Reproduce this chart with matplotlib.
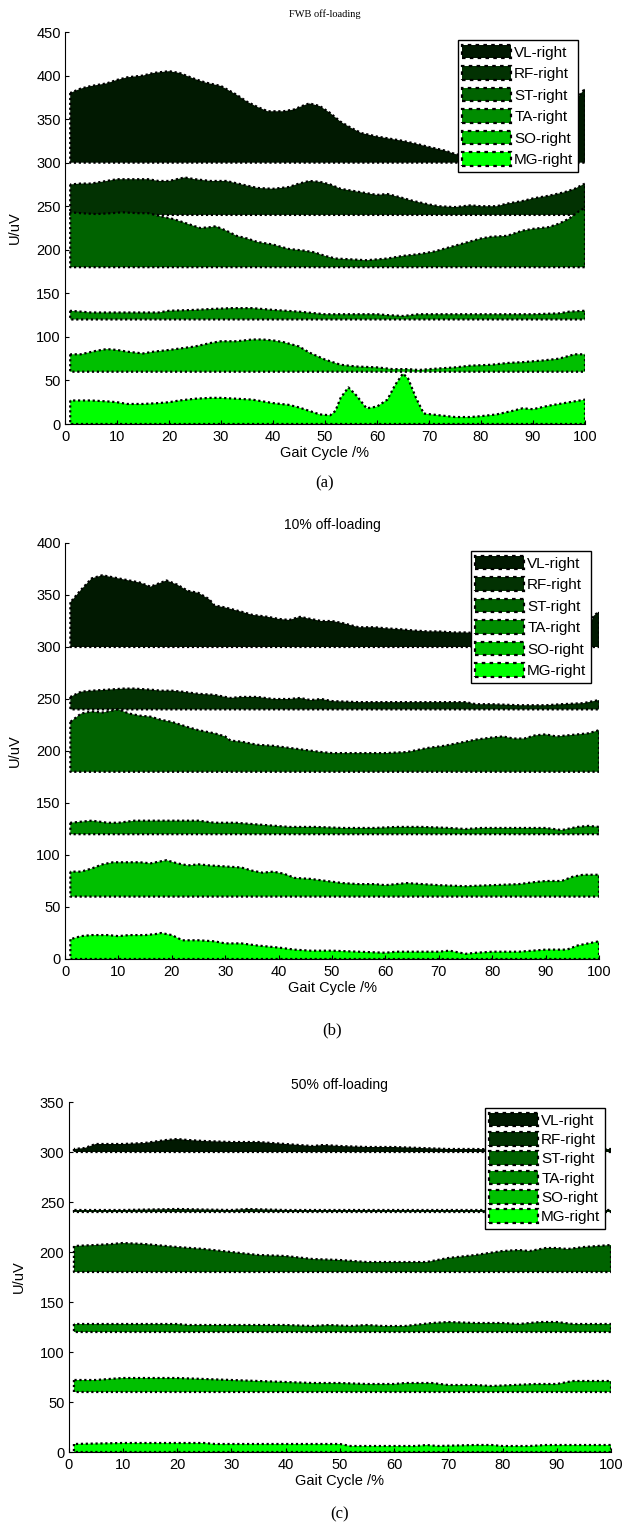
import matplotlib
matplotlib.use("Agg")
import matplotlib.pyplot as plt

# ---------------- data ----------------
muscles = ["VL-right", "RF-right", "ST-right", "TA-right", "SO-right", "MG-right"]
baselines = [300, 240, 180, 120, 60, 0]
colors = ["#011901", "#023202", "#006300", "#008c00", "#00bf00", "#00ff00"]

# Panel (a) FWB off-loading
a_VL_x = [1, 3, 5, 8, 10, 12, 15, 17, 20, 22, 25, 27, 30, 33, 35, 37, 39, 42, 44, 46, 47, 49, 51, 53, 55, 57, 60, 62, 65, 68, 70, 73, 75, 78, 80, 85, 90, 95, 97, 98, 99, 100]
a_VL_y = [380, 385, 388, 391, 395, 398, 400, 403, 405, 403, 396, 392, 388, 378, 370, 364, 359, 359, 361, 366, 368, 365, 357, 347, 340, 334, 330, 328, 325, 321, 318, 314, 310, 306, 305, 303, 302, 304, 330, 370, 378, 385]
a_RF_x = [1, 3, 5, 7, 10, 13, 16, 18, 20, 23, 25, 28, 31, 34, 37, 40, 43, 45, 47, 49, 51, 53, 55, 58, 60, 62, 64, 67, 70, 72, 75, 78, 80, 83, 85, 88, 90, 93, 96, 98, 100]
a_RF_y = [275, 276, 276, 278, 281, 281, 281, 279, 279, 283, 281, 279, 279, 275, 271, 270, 272, 276, 279, 278, 275, 270, 268, 265, 263, 264, 261, 256, 252, 250, 249, 251, 250, 250, 253, 256, 259, 262, 266, 270, 276]
a_ST_x = [1, 3, 6, 9, 11, 14, 16, 18, 21, 24, 26, 28, 29, 31, 33, 35, 37, 40, 43, 46, 48, 50, 52, 55, 58, 60, 62, 65, 68, 71, 74, 77, 80, 82, 85, 88, 90, 93, 95, 97, 99, 100]
a_ST_y = [243, 242, 241, 242, 243, 242, 242, 239, 235, 229, 225, 226, 227, 222, 216, 213, 209, 206, 201, 199, 197, 193, 190, 189, 188, 189, 190, 193, 195, 198, 203, 208, 213, 215, 216, 222, 224, 226, 230, 236, 245, 248]
a_TA_x = [1, 5, 10, 15, 18, 20, 25, 28, 32, 36, 40, 45, 50, 55, 60, 62, 65, 68, 72, 80, 85, 90, 95, 97, 100]
a_TA_y = [130, 128, 128, 128, 128, 130, 131, 132, 133, 133, 131, 129, 126, 126, 126, 125, 124, 126, 126, 126, 126, 126, 127, 129, 130]
a_SO_x = [1, 3, 6, 8, 10, 12, 15, 17, 20, 25, 28, 30, 33, 36, 38, 40, 42, 45, 47, 50, 53, 56, 60, 63, 66, 68, 70, 75, 78, 82, 85, 88, 92, 95, 98, 100]
a_SO_y = [80, 80, 84, 86, 85, 83, 81, 83, 85, 89, 93, 95, 95, 97, 97, 96, 94, 89, 82, 74, 68, 66, 65, 63, 63, 62, 63, 65, 67, 68, 70, 71, 73, 75, 80, 80]
a_MG_x = [1, 5, 8, 10, 12, 15, 18, 20, 22, 25, 28, 30, 33, 36, 40, 43, 45, 47, 49, 51, 52, 53, 54.5, 56, 58, 60, 62, 63.5, 65, 66, 67.5, 69, 72, 75, 78, 80, 83, 86, 88, 90, 93, 96, 100]
a_MG_y = [27, 27, 26, 25, 23, 23, 24, 25, 27, 29, 30, 30, 29, 28, 24, 22, 19, 15, 11, 10, 15, 30, 42, 33, 18, 20, 28, 45, 58, 52, 30, 12, 10, 8, 8, 9, 11, 15, 18, 17, 21, 24, 28]

# Panel (b) 10% off-loading
b_VL_x = [1, 3, 5, 7, 10, 12, 14, 16, 18, 19, 21, 23, 25, 27, 28, 30, 33, 35, 38, 40, 42, 44, 46, 48, 50, 52, 55, 58, 60, 63, 65, 68, 70, 73, 75, 78, 85, 90, 95, 98, 99, 100]
b_VL_y = [343, 355, 366, 369, 366, 364, 362, 358, 362, 364, 360, 354, 352, 346, 340, 338, 334, 331, 329, 327, 326, 329, 327, 325, 325, 323, 319, 319, 318, 317, 316, 315, 315, 314, 314, 313, 312, 312, 312, 318, 330, 334]
b_RF_x = [1, 3, 5, 8, 11, 13, 16, 18, 20, 22, 25, 28, 31, 33, 36, 39, 42, 44, 46, 48, 50, 55, 60, 65, 70, 75, 77, 80, 85, 90, 93, 97, 100]
b_RF_y = [252, 257, 258, 259, 260, 260, 259, 258, 258, 257, 255, 254, 251, 252, 252, 250, 250, 251, 249, 250, 248, 247, 247, 247, 247, 247, 245, 245, 244, 244, 245, 246, 249]
b_ST_x = [1, 3, 5, 7, 9, 10, 12, 14, 16, 18, 20, 23, 25, 28, 30, 31, 33, 36, 39, 42, 45, 48, 50, 55, 60, 64, 68, 71, 74, 77, 80, 82, 84, 86, 88, 90, 92, 94, 96, 98, 100]
b_ST_y = [228, 236, 238, 237, 239, 240, 236, 234, 233, 230, 228, 223, 220, 217, 214, 210, 209, 206, 205, 203, 201, 199, 198, 198, 198, 199, 203, 205, 208, 211, 213, 214, 212, 212, 215, 216, 214, 215, 216, 217, 220]
b_TA_x = [1, 5, 8, 10, 13, 16, 20, 25, 28, 32, 37, 42, 47, 52, 58, 62, 67, 72, 75, 78, 85, 90, 93, 96, 98, 100]
b_TA_y = [131, 133, 131, 131, 133, 133, 133, 133, 131, 131, 129, 127, 127, 126, 126, 127, 127, 126, 125, 126, 126, 126, 124, 127, 128, 127]
b_SO_x = [1, 3, 5, 7, 9, 12, 14, 16, 18, 19, 21, 23, 25, 27, 30, 33, 35, 37, 39, 41, 43, 46, 49, 52, 55, 58, 60, 64, 67, 70, 75, 80, 85, 88, 90, 93, 95, 97, 100]
b_SO_y = [84, 84, 87, 91, 93, 93, 93, 92, 94, 95, 92, 90, 91, 90, 89, 88, 85, 83, 84, 82, 78, 77, 75, 73, 72, 72, 71, 73, 72, 71, 70, 71, 72, 74, 75, 75, 79, 81, 81]
b_MG_x = [1, 3, 5, 8, 10, 12, 15, 17, 18, 20, 22, 25, 28, 30, 33, 36, 40, 43, 46, 50, 55, 60, 62, 65, 70, 72, 75, 77, 80, 85, 90, 94, 96, 98, 100]
b_MG_y = [19, 22, 23, 23, 22, 23, 23, 24, 25, 23, 18, 18, 17, 15, 15, 13, 11, 9, 8, 8, 7, 6, 7, 7, 7, 8, 5, 6, 7, 7, 9, 9, 13, 15, 17]

# Panel (c) 50% off-loading
c_VL_x = [1, 3, 5, 8, 10, 14, 18, 20, 22, 25, 30, 35, 40, 45, 47, 50, 55, 60, 65, 70, 75, 85, 100]
c_VL_y = [303, 304, 308, 308, 308, 309, 312, 313, 312, 311, 310, 310, 308, 306, 307, 306, 305, 305, 304, 303, 303, 302, 303]
c_RF_x = [1, 10, 20, 30, 33, 40, 50, 60, 70, 80, 90, 100]
c_RF_y = [242, 242, 243, 242, 243, 242, 242, 242, 242, 242, 242, 242]
c_ST_x = [1, 5, 8, 10, 14, 20, 25, 30, 35, 40, 45, 50, 55, 60, 66, 70, 75, 80, 83, 85, 88, 90, 92, 95, 100]
c_ST_y = [206, 207, 208, 209, 208, 205, 203, 200, 197, 196, 193, 192, 190, 190, 190, 194, 197, 201, 202, 201, 204, 204, 203, 205, 207]
c_TA_x = [1, 5, 10, 20, 22, 30, 40, 45, 48, 52, 55, 58, 62, 67, 70, 75, 80, 83, 87, 90, 93, 100]
c_TA_y = [128, 128, 128, 128, 127, 127, 127, 126, 127, 126, 127, 126, 126, 129, 130, 129, 129, 128, 130, 130, 128, 128]
c_SO_x = [1, 5, 10, 15, 20, 25, 30, 35, 40, 45, 50, 55, 60, 62, 67, 70, 75, 78, 82, 86, 90, 93, 100]
c_SO_y = [72, 72, 74, 74, 74, 73, 72, 71, 70, 69, 69, 68, 68, 69, 69, 67, 67, 66, 67, 68, 68, 71, 71]
c_MG_x = [1, 10, 20, 25, 27, 35, 45, 50, 52, 60, 64, 66, 68, 75, 78, 80, 85, 88, 100]
c_MG_y = [8, 9, 9, 9, 8, 8, 8, 8, 6, 6, 6, 7, 6, 7, 7, 6, 6, 7, 7]

titles = ["FWB off-loading", "10% off-loading", "50% off-loading"]
panel_tags = ["(a)", "(b)", "(c)"]
y_max = [450, 400, 350]
x_ticks = list(range(0, 101, 10))

panels = [
    [(a_VL_x, a_VL_y), (a_RF_x, a_RF_y), (a_ST_x, a_ST_y), (a_TA_x, a_TA_y), (a_SO_x, a_SO_y), (a_MG_x, a_MG_y)],
    [(b_VL_x, b_VL_y), (b_RF_x, b_RF_y), (b_ST_x, b_ST_y), (b_TA_x, b_TA_y), (b_SO_x, b_SO_y), (b_MG_x, b_MG_y)],
    [(c_VL_x, c_VL_y), (c_RF_x, c_RF_y), (c_ST_x, c_ST_y), (c_TA_x, c_TA_y), (c_SO_x, c_SO_y), (c_MG_x, c_MG_y)],
]

# ---------------- layout ----------------
W, H = 625, 1526
fig = plt.figure(figsize=(W / 100, H / 100), dpi=100)
plt.rcParams['font.family'] = ['Liberation Sans', 'DejaVu Sans']

# axes boxes in pixels: left, right, top, bottom
boxes = [(65, 585, 32, 424), (65, 599, 543, 959), (68.5, 611, 1102, 1452)]
legend_boxes = [(578, 40), (591, 551), (605, 1108)]  # right, top in px
legend_spacing = [0.42, 0.42, 0.28]
title_y = [14, 525, 1085]
tag_y = [483, 1030, 1514]
serif_title = [True, False, False]

for i, (l, r, t, b) in enumerate(boxes):
    ax = fig.add_axes([l / W, 1 - b / H, (r - l) / W, (b - t) / H])
    handles = []
    for k, (xs, ys) in enumerate(panels[i]):
        h = ax.fill_between(xs, baselines[k], ys, facecolor=colors[k], edgecolor='black',
                            linestyle=(0, (1, 1.2)), linewidth=1.6, label=muscles[k])
        handles.append(h)
    ax.set_xlim(0, 100)
    ax.set_ylim(0, y_max[i])
    ax.set_xticks(x_ticks)
    ax.set_yticks(list(range(0, y_max[i] + 1, 50)))
    for s in ['top', 'right']:
        ax.spines[s].set_visible(False)
    ax.spines['left'].set_linewidth(0.8)
    ax.spines['bottom'].set_linewidth(0.8)
    ax.tick_params(direction='in', length=3, width=0.8, labelsize=10.5)
    ax.tick_params(axis='x', pad=4)
    ax.tick_params(axis='y', pad=3)
    ax.set_xlabel("Gait Cycle /%", fontsize=10.5, labelpad=2)
    ax.set_ylabel("U/uV", fontsize=10.5, labelpad=10)
    if serif_title[i]:
        fig.text(0.5 * (l + r) / W, 1 - title_y[i] / H, titles[i], ha='center', va='center',
                 fontsize=7.5, family='Liberation Serif')
    else:
        fig.text(0.5 * (l + r) / W, 1 - title_y[i] / H, titles[i], ha='center', va='center',
                 fontsize=10)
    fig.text(0.5 * (l + r) / W, 1 - tag_y[i] / H, panel_tags[i], ha='center', va='center',
             fontsize=12, family='Liberation Serif')
    lr, lt = legend_boxes[i]
    leg = ax.legend(handles=handles, loc='upper right',
                    bbox_to_anchor=(lr / W, 1 - lt / H), bbox_transform=fig.transFigure,
                    fontsize=11, frameon=True, fancybox=False, edgecolor='black',
                    framealpha=1, handlelength=3.2, handleheight=1.0, handletextpad=0.2,
                    labelspacing=legend_spacing[i], borderpad=0.3, borderaxespad=0)
    leg.get_frame().set_linewidth(1.0)

fig.savefig("out.png", dpi=100)
